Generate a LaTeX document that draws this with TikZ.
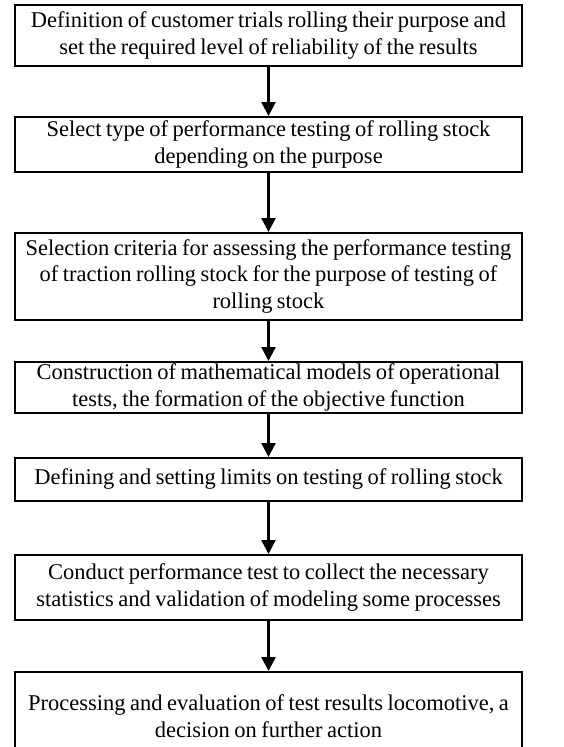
\documentclass[tikz,border=0pt]{standalone}
\usepackage{fontspec}
\setmainfont{Liberation Serif}
\usetikzlibrary{arrows.meta}
\newcommand\stagefont{\fontsize{22.5}{26.5}\selectfont\fontdimen2\font=4.5pt\relax}
\begin{document}
\begin{tikzpicture}[x=1pt,y=-1pt,
    stage/.style={draw, line width=2pt, minimum width=507pt,
        align=center, inner sep=0pt, font=\stagefont},
    link/.style={-{Triangle[length=14pt,width=14pt]}, line width=2.5pt}]
    \useasboundingbox (0,0) rectangle (564,747);
    \node[stage, minimum height=61pt] (def) at (268.5,35.5) {Definition of customer trials rolling their purpose and\\ set the required level of reliability of the results};
    \node[stage, minimum height=55pt] (sel) at (268.5,144.5) {Select type of performance testing of rolling stock\\ depending on the purpose};
    \node[stage, minimum height=87pt] (crit) at (268.5,276.5) {Selection criteria for assessing the performance testing\\ of traction rolling stock for the purpose of testing of\\ rolling stock};
    \node[stage, minimum height=51pt] (model) at (268.5,387.5) {Construction of mathematical models of operational\\ tests, the formation of the objective function};
    \node[stage, minimum height=43pt] (lim) at (268.5,479.5) {Defining and setting limits on testing of rolling stock};
    \node[stage, minimum height=65pt] (test) at (268.5,587.5) {Conduct performance test to collect the necessary\\ statistics and validation of modeling some processes};
    \node[stage, minimum height=88pt] (eval) at (268.5,716) {Processing and evaluation of test results locomotive, a\\ decision on further action};
    \draw[link] (def) -- (sel);
    \draw[link] (sel) -- (crit);
    \draw[link] (crit) -- (model);
    \draw[link] (model) -- (lim);
    \draw[link] (lim) -- (test);
    \draw[link] (test) -- (eval);
\end{tikzpicture}
\end{document}
